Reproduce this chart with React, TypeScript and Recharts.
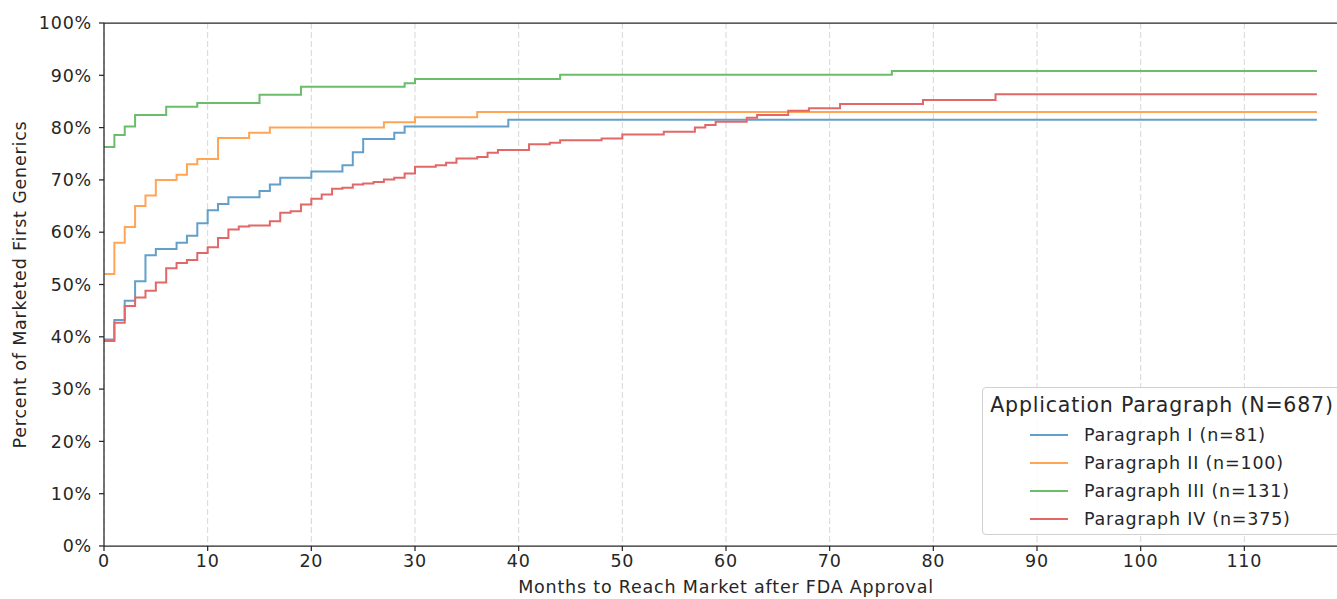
import React from 'react';
import { LineChart, Line, XAxis, YAxis, CartesianGrid, ReferenceLine, Label } from 'recharts';

const xTicks = [0, 10, 20, 30, 40, 50, 60, 70, 80, 90, 100, 110];
const yTicks = [0, 10, 20, 30, 40, 50, 60, 70, 80, 90, 100];

const p1Months = [0, 1, 2, 3, 4, 5, 7, 8, 9, 10, 11, 12, 15, 16, 17, 20, 23, 24, 25, 28, 29, 39, 117];
const p1Values = [39.5, 43.2, 46.9, 50.6, 55.6, 56.8, 58.0, 59.3, 61.7, 64.2, 65.4, 66.7, 67.9, 69.1, 70.4, 71.6, 72.8, 75.3, 77.8, 79.0, 80.2, 81.5, 81.5];

const p2Months = [0, 1, 2, 3, 4, 5, 7, 8, 9, 11, 14, 16, 27, 30, 36, 117];
const p2Values = [52, 58, 61, 65, 67, 70, 71, 73, 74, 78, 79, 80, 81, 82, 83, 83];

const p3Months = [0, 1, 2, 3, 6, 9, 15, 19, 29, 30, 44, 76, 117];
const p3Values = [76.3, 78.6, 80.2, 82.4, 84.0, 84.7, 86.3, 87.8, 88.5, 89.3, 90.1, 90.8, 90.8];

const p4Months = [0, 1, 2, 3, 4, 5, 6, 7, 8, 9, 10, 11, 12, 13, 14, 16, 17, 18, 19, 20, 21, 22, 23, 24, 25, 26, 27, 28, 29, 30, 32, 33, 34, 36, 37, 38, 41, 43, 44, 48, 50, 54, 57, 58, 59, 62, 63, 66, 68, 71, 79, 86, 117];
const p4Values = [39.2, 42.7, 45.9, 47.5, 48.8, 50.4, 53.1, 54.1, 54.7, 56.0, 57.1, 58.9, 60.5, 61.1, 61.3, 62.1, 63.7, 64.0, 65.3, 66.4, 67.2, 68.3, 68.5, 69.1, 69.3, 69.6, 70.1, 70.4, 71.2, 72.5, 72.8, 73.3, 74.1, 74.4, 75.2, 75.7, 76.8, 77.1, 77.6, 77.9, 78.7, 79.2, 80.0, 80.5, 81.1, 81.9, 82.4, 83.2, 83.7, 84.5, 85.3, 86.4, 86.4];

const seriesNames = ['Paragraph I (n=81)', 'Paragraph II (n=100)', 'Paragraph III (n=131)', 'Paragraph IV (n=375)'];
const seriesColors = ['#62a0cb', '#ffa556', '#6bbc6b', '#e26868'];
const legendTitle = 'Application Paragraph (N=687)';

const toRows = (ms: number[], vs: number[]) => ms.map((m, i) => ({ m, v: vs[i] }));
const seriesData = [
  toRows(p1Months, p1Values),
  toRows(p2Months, p2Values),
  toRows(p3Months, p3Values),
  toRows(p4Months, p4Values),
];

const FONT = '"DejaVu Sans", sans-serif';
const INK = '#262626';
const LS = '0.8px';

export default function App() {
  return (
    <div style={{ position: 'absolute', left: 0, top: 0, width: 1337, height: 599, overflow: 'hidden', background: '#fff', fontFamily: FONT }}>
      <LineChart width={1352} height={599} margin={{ top: 23, right: 4, left: 0, bottom: 0 }}>
        <CartesianGrid horizontal={false} vertical stroke="#d6d6d6" strokeDasharray="6 3" strokeWidth={1} />
        <XAxis
          type="number"
          dataKey="m"
          domain={[0, 120]}
          ticks={xTicks}
          interval={0}
          allowDataOverflow
          height={53}
          axisLine={{ stroke: INK, strokeWidth: 1.25 }}
          tickLine={{ stroke: INK, strokeWidth: 1.25 }}
          tickSize={5}
          tick={{ fill: INK, fontSize: 17.5, fontFamily: FONT, style: { letterSpacing: LS } }}
          tickMargin={4}
        >
          <Label
            content={(props: any) => {
              const vb = props.viewBox || {};
              return (
                <text x={vb.x + vb.width / 2} y={593} textAnchor="middle" fill={INK} fontSize={17.5} fontFamily={FONT} style={{ letterSpacing: LS }}>
                  Months to Reach Market after FDA Approval
                </text>
              );
            }}
          />
        </XAxis>
        <YAxis
          type="number"
          domain={[0, 100]}
          ticks={yTicks}
          interval={0}
          width={104}
          axisLine={{ stroke: INK, strokeWidth: 1.25 }}
          tickLine={{ stroke: INK, strokeWidth: 1.25 }}
          tickSize={5}
          tick={{ fill: INK, fontSize: 17.5, fontFamily: FONT, style: { letterSpacing: LS } }}
          tickMargin={7}
          tickFormatter={(v: number) => `${v}%`}
        >
          <Label
            content={(props: any) => {
              const vb = props.viewBox || {};
              const cy = vb.y + vb.height / 2;
              return (
                <text x={26} y={cy} transform={`rotate(-90 26 ${cy})`} textAnchor="middle" fill={INK} fontSize={17.5} fontFamily={FONT} style={{ letterSpacing: LS }}>
                  Percent of Marketed First Generics
                </text>
              );
            }}
          />
        </YAxis>
        <ReferenceLine y={100} stroke={INK} strokeWidth={1.25} ifOverflow="visible" />
        {seriesData.map((d, i) => (
          <Line
            key={seriesNames[i]}
            data={d}
            dataKey="v"
            name={seriesNames[i]}
            type="stepAfter"
            stroke={seriesColors[i]}
            strokeWidth={2}
            dot={false}
            activeDot={false}
            isAnimationActive={false}
          />
        ))}
      </LineChart>
      <div
        style={{
          position: 'absolute',
          left: 982,
          top: 387,
          width: 358,
          height: 148,
          border: '1px solid #d0d0d0',
          borderRadius: 4,
          background: 'rgba(255,255,255,0.85)',
          boxSizing: 'border-box',
        }}
      >
        <div style={{ position: 'absolute', left: 0, width: 358, top: 4, textAlign: 'center', fontSize: 20.5, color: INK, whiteSpace: 'nowrap', lineHeight: '26px', letterSpacing: LS }}>
          {legendTitle}
        </div>
        {seriesNames.map((n, i) => (
          <div key={n} style={{ position: 'absolute', left: 47, top: 33 + i * 28, height: 28, display: 'flex', alignItems: 'center', whiteSpace: 'nowrap' }}>
            <div style={{ width: 38, height: 2, background: seriesColors[i] }} />
            <span style={{ marginLeft: 16, fontSize: 17.5, color: INK, letterSpacing: LS }}>{n}</span>
          </div>
        ))}
      </div>
    </div>
  );
}
